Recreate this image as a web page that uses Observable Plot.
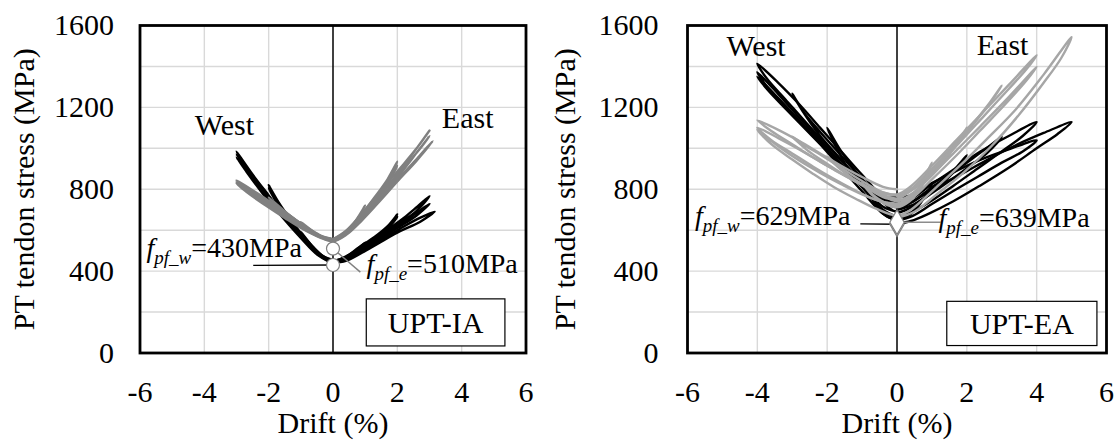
<!DOCTYPE html>
<html><head><meta charset="utf-8">
<script src="https://cdn.jsdelivr.net/npm/d3@7"></script>
<script src="https://cdn.jsdelivr.net/npm/@observablehq/plot@0.6"></script>
<style>
html,body{margin:0;padding:0;background:#fff;}
#wrap{display:flex;width:1118px;height:443px;overflow:hidden;}
#wrap > div{flex:none;}
svg{display:block;}
#wrap svg text{font-family:"Liberation Serif","Times New Roman",serif;}
</style></head>
<body><div id="wrap"><div id="left"></div><div id="right"></div></div>
<script>
// ---------- axes ----------
const xTicks = [-6, -4, -2, 0, 2, 4, 6];
const yTicks = [0, 400, 800, 1200, 1600];
const xGrid = [-4, -2, 2, 4];
const yGrid = [200, 400, 600, 800, 1000, 1200, 1400];

// ---------- UPT-IA : West tendon (black), cycles of [drift %, stress MPa] ----------
const iaWestCycles = [
  [[0,455],[-0.3,472],[-0.6,515],[-1,592],[-0.7,528],[-0.35,478],[0,452],[0.35,468],[0.7,500],[1,540],[0.7,492],[0.35,460],[0,450]],
  [[0,452],[-0.3,470],[-0.7,530],[-1.2,625],[-1.6,712],[-2,820],[-1.7,738],[-1.3,648],[-0.8,548],[-0.35,478],[0,450],[0.35,466],[0.8,515],[1.3,568],[1.7,620],[2,677],[1.7,612],[1.3,558],[0.8,502],[0.35,458],[0,448]],
  [[0,450],[-0.35,474],[-0.8,545],[-1.3,640],[-1.7,722],[-2,805],[-1.7,728],[-1.3,638],[-0.8,540],[-0.35,470],[0,448],[0.35,462],[0.8,508],[1.3,560],[1.7,612],[2,665],[1.7,605],[1.3,552],[0.8,497],[0.35,455],[0,446]],
  [[0,448],[-0.4,478],[-0.9,558],[-1.5,670],[-2,770],[-2.5,872],[-3,984],[-2.7,912],[-2.2,800],[-1.6,680],[-1,572],[-0.45,484],[0,446],[0.4,468],[1,528],[1.6,592],[2.2,660],[2.6,712],[3,766],[2.6,694],[2.1,636],[1.5,570],[0.9,505],[0.4,458],[0,444]],
  [[0,446],[-0.4,476],[-0.9,555],[-1.5,665],[-2,765],[-2.5,865],[-3,970],[-2.7,900],[-2.2,792],[-1.6,675],[-1,568],[-0.45,480],[0,444],[0.4,462],[1,518],[1.6,580],[2.2,642],[2.6,686],[3,729],[2.6,672],[2.1,620],[1.5,560],[0.9,498],[0.4,454],[0,442]],
  [[0,444],[-0.4,472],[-0.9,550],[-1.5,658],[-2,758],[-2.5,858],[-3,955],[-2.7,888],[-2.2,782],[-1.6,668],[-1,562],[-0.45,476],[0,442],[0.4,456],[1,506],[1.6,562],[2.2,618],[2.7,660],[3.16,691],[2.7,640],[2.1,596],[1.5,544],[0.9,490],[0.4,450],[0,440]]
];
// ---------- UPT-IA : East tendon (grey) ----------
const iaEastCycles = [
  [[0,555],[-0.3,565],[-0.6,592],[-1,640],[-0.7,598],[-0.35,568],[0,552],[0.3,572],[0.6,622],[1,720],[0.7,640],[0.35,582],[0,555]],
  [[0,555],[-0.4,572],[-0.9,620],[-1.4,680],[-2,760],[-1.6,700],[-1.1,640],[-0.5,580],[0,553],[0.35,580],[0.8,648],[1.3,750],[1.7,840],[2,935],[1.7,850],[1.3,762],[0.8,660],[0.35,588],[0,556]],
  [[0,556],[-0.4,575],[-0.9,622],[-1.4,678],[-2,745],[-1.6,690],[-1.1,632],[-0.5,576],[0,552],[0.35,575],[0.8,640],[1.3,738],[1.7,826],[2,915],[1.7,835],[1.3,748],[0.8,650],[0.35,582],[0,554]],
  [[0,554],[-0.4,572],[-1,632],[-1.6,700],[-2.2,765],[-2.6,805],[-3,843],[-2.6,790],[-2.1,735],[-1.5,672],[-0.9,612],[-0.4,570],[0,550],[0.4,585],[0.9,665],[1.5,775],[2,870],[2.5,978],[3,1087],[2.6,1000],[2.1,905],[1.5,795],[0.9,682],[0.4,596],[0,556]],
  [[0,552],[-0.4,570],[-1,628],[-1.6,695],[-2.2,758],[-2.6,798],[-3,835],[-2.6,782],[-2.1,728],[-1.5,665],[-0.9,606],[-0.4,566],[0,548],[0.4,580],[0.9,656],[1.5,762],[2,855],[2.5,958],[3,1060],[2.6,978],[2.1,888],[1.5,782],[0.9,672],[0.4,590],[0,552]],
  [[0,550],[-0.4,568],[-1,624],[-1.6,690],[-2.2,752],[-2.6,792],[-3,828],[-2.6,776],[-2.1,722],[-1.5,660],[-0.9,602],[-0.4,564],[0,546],[0.4,576],[0.9,648],[1.5,750],[2,838],[2.6,940],[3.1,1035],[2.7,965],[2.2,880],[1.6,775],[1,672],[0.45,590],[0,550]]
];

// ---------- UPT-EA : West tendon (black) ----------
const eaWestCycles = [
  [[0,650],[-0.3,668],[-0.6,720],[-1,850],[-0.7,752],[-0.35,688],[0,655],[0.3,668],[0.6,715],[1,820],[0.7,740],[0.35,678],[0,650]],
  [[0,690],[-0.4,715],[-0.9,800],[-1.4,900],[-2,1100],[-1.6,985],[-1.1,870],[-0.6,770],[0,688],[0.4,712],[0.9,775],[1.4,850],[2,966],[1.6,880],[1.1,800],[0.5,720],[0,682]],
  [[0,715],[-0.4,740],[-1,850],[-1.6,965],[-2.2,1080],[-2.6,1160],[-3,1267],[-2.7,1180],[-2.2,1060],[-1.6,945],[-1,830],[-0.45,745],[0,712],[0.4,735],[1,810],[1.6,880],[2.2,955],[2.6,1005],[3,1055],[2.6,980],[2.1,915],[1.5,840],[0.9,770],[0.4,720],[0,700]],
  [[0,740],[-0.4,765],[-1,870],[-1.6,985],[-2.2,1100],[-2.8,1215],[-3.4,1320],[-4,1413],[-3.7,1335],[-3.2,1240],[-2.6,1125],[-2,1015],[-1.4,905],[-0.8,810],[-0.35,750],[0,735],[0.4,752],[1,825],[1.7,905],[2.4,985],[3.2,1060],[4,1128],[3.6,1060],[3,985],[2.3,900],[1.6,815],[1,745],[0.45,690],[0,665]],
  [[0,665],[-0.4,700],[-1,810],[-1.6,925],[-2.2,1040],[-2.8,1150],[-3.4,1265],[-4,1372],[-3.7,1295],[-3.2,1205],[-2.6,1095],[-2,990],[-1.4,885],[-0.8,800],[-0.35,760],[0,762],[0.4,770],[1,830],[1.7,890],[2.4,945],[3.2,995],[4,1039],[3.6,985],[3,930],[2.3,860],[1.6,790],[1,728],[0.45,670],[0,645]],
  [[0,645],[-0.4,680],[-1,790],[-1.6,905],[-2.2,1020],[-2.8,1135],[-3.4,1245],[-4,1350],[-3.7,1285],[-3.2,1195],[-2.6,1090],[-2,985],[-1.4,880],[-0.8,790],[-0.35,740],[0,718],[0.4,735],[1,800],[1.8,870],[2.6,945],[3.4,1015],[4.2,1075],[5,1128],[4.6,1070],[4,1000],[3.2,905],[2.4,820],[1.6,740],[0.9,680],[0.4,645],[0,632]]
];
// ---------- UPT-EA : East tendon (grey) ----------
const eaEastCycles = [
  [[0,720],[-0.35,735],[-0.7,775],[-1,830],[-0.7,770],[-0.35,728],[0,712],[0.35,740],[0.7,810],[1,930],[0.7,830],[0.35,752],[0,720]],
  [[0,745],[-0.4,762],[-0.9,810],[-1.4,870],[-2,960],[-1.6,895],[-1.1,835],[-0.5,778],[0,742],[0.4,775],[0.9,850],[1.4,945],[2,1100],[1.7,1020],[1.2,920],[0.6,818],[0,748]],
  [[0,770],[-0.4,785],[-1,840],[-1.6,905],[-2.2,970],[-2.6,1010],[-3,1058],[-2.6,995],[-2.1,935],[-1.5,868],[-0.9,810],[-0.4,772],[0,755],[0.4,800],[1,900],[1.6,1010],[2.2,1125],[2.6,1210],[3,1307],[2.7,1230],[2.2,1120],[1.6,995],[1,885],[0.45,800],[0,768]],
  [[0,800],[-0.4,812],[-1,860],[-1.6,915],[-2.2,975],[-2.8,1035],[-3.4,1090],[-4,1137],[-3.6,1085],[-3,1020],[-2.4,955],[-1.8,895],[-1.2,840],[-0.6,795],[0,775],[0.4,815],[1,915],[1.7,1040],[2.4,1165],[3.2,1310],[4,1454],[3.7,1385],[3.2,1290],[2.5,1160],[1.8,1030],[1.1,905],[0.5,810],[0,770]],
  [[0,770],[-0.4,780],[-1,825],[-1.6,878],[-2.2,935],[-2.8,995],[-3.4,1050],[-4,1101],[-3.6,1040],[-3,975],[-2.4,910],[-1.8,850],[-1.2,795],[-0.6,748],[0,728],[0.4,770],[1,870],[1.7,990],[2.4,1110],[3.2,1250],[4,1397],[3.7,1330],[3.1,1215],[2.4,1090],[1.7,965],[1,848],[0.45,760],[0,730]],
  [[0,730],[-0.4,738],[-1,775],[-1.6,825],[-2.2,880],[-2.8,940],[-3.4,1010],[-4,1090],[-3.6,1020],[-3,945],[-2.4,875],[-1.8,810],[-1.2,755],[-0.6,705],[0,672],[0.4,700],[1,790],[1.8,915],[2.6,1050],[3.4,1190],[4.2,1360],[5,1543],[4.7,1440],[4.2,1320],[3.5,1165],[2.7,1010],[1.9,880],[1.1,770],[0.5,690],[0,660]]
];

// ---------- markers and annotations ----------
const iaMarkers = [{drift: 0, stress: 430}, {drift: 0, stress: 510}];
const eaMarkers = [{drift: 0, stress: 629}, {drift: 0, stress: 639}];
const iaLeaders = [
  {x1: -2.48, y1: 428, x2: 0, y2: 430, kind: "w"},
  {x1: 0, y1: 510, x2: 0.85, y2: 395, kind: "e"}
];
const eaLeaders = [
  {x1: -1.05, y1: 631, x2: 0, y2: 629, kind: "w"},
  {x1: 0, y1: 639, x2: 1.25, y2: 639, kind: "e"}
];
const iaNotes = [
  {drift: -5.78, stress: 468, sub: "pf_w", value: "=430MPa"},
  {drift: 1.06, stress: 387, sub: "pf_e", value: "=510MPa"}
];
const eaNotes = [
  {drift: -5.77, stress: 624, sub: "pf_w", value: "=629MPa"},
  {drift: 1.2, stress: 615, sub: "pf_e", value: "=639MPa"}
];
const iaLabels = [{text: "West", drift: -4.28, stress: 1062}, {text: "East", drift: 3.4, stress: 1095}];
const eaLabels = [{text: "West", drift: -4.87, stress: 1449}, {text: "East", drift: 2.3, stress: 1454}];
const iaBox = [{x1: 1.05, x2: 5.36, y1: 32, y2: 262, label: "UPT-IA"}];
const eaBox = [{x1: 1.44, x2: 5.74, y1: 34, y2: 250, label: "UPT-EA"}];

const FONT = "'Liberation Serif', 'Times New Roman', serif";
const FS = 30;
const fmt = d => d < 0 ? "-" + (-d) : String(d);

function rows(cycles) {
  const out = [];
  cycles.forEach((c, i) => c.forEach(([d, s]) => out.push({d, s, c: i})));
  return out;
}

function panel(o) {
  const chart = Plot.plot({
    width: o.width, height: 443,
    marginLeft: o.marginLeft, marginRight: o.marginRight, marginTop: 25, marginBottom: 90.5,
    style: {fontFamily: FONT, fontSize: FS + "px", background: "transparent", color: "black", overflow: "visible"},
    x: {domain: [-6, 6]},
    y: {domain: [0, 1600]},
    marks: [
      Plot.gridX(xGrid, {stroke: "#d9d9d9", strokeOpacity: 1, strokeWidth: 1.4}),
      Plot.gridY(yGrid, {stroke: "#d9d9d9", strokeOpacity: 1, strokeWidth: 1.4}),
      Plot.ruleX([0], {stroke: "black", strokeWidth: 1.5}),
      Plot.line(rows(o.west), {x: "d", y: "s", z: "c", stroke: "black", strokeWidth: 2.4, curve: "catmull-rom"}),
      Plot.line(rows(o.east), {x: "d", y: "s", z: "c", stroke: o.grey, strokeWidth: 2.4, curve: "catmull-rom"}),
      Plot.link(o.leaders, {x1: "x1", y1: "y1", x2: "x2", y2: "y2",
        stroke: d => d.kind === "w" ? "black" : o.leaderGrey, strokeWidth: 1.4}),
      Plot.dot(o.markers, {x: "drift", y: "stress", symbol: o.symbol, r: o.r,
        fill: "white", stroke: "#7f7f7f", strokeWidth: 1.2}),
      Plot.rect(o.box, {x1: "x1", x2: "x2", y1: "y1", y2: "y2", fill: "white", stroke: "black", strokeWidth: 1.2}),
      Plot.frame({stroke: "black", strokeWidth: 2.8}),
      Plot.axisX({ticks: xTicks, tickFormat: fmt, tickSize: 0, tickPadding: 28, fontSize: FS, fontFamily: FONT,
        label: "Drift (%)", labelAnchor: "center", labelArrow: "none", labelOffset: 80}),
      Plot.axisY({ticks: yTicks, tickFormat: fmt, tickSize: 0, tickPadding: o.yPad, fontSize: FS, fontFamily: FONT,
        label: "PT tendon stress (MPa)", labelAnchor: "center", labelArrow: "none", labelOffset: o.labelOffset})
    ]
  });
  const x = chart.scale("x"), y = chart.scale("y");
  const svg = d3.select(chart);
  const g = svg.append("g").attr("font-family", FONT).attr("fill", "black").attr("text-anchor", "start");
  o.labels.forEach(l => g.append("text")
    .attr("x", x.apply(l.drift)).attr("y", y.apply(l.stress))
    .attr("font-size", FS).text(l.text));
  o.box.forEach(b => g.append("text")
    .attr("x", (x.apply(b.x1) + x.apply(b.x2)) / 2)
    .attr("y", (y.apply(b.y1) + y.apply(b.y2)) / 2)
    .attr("dy", "0.34em").attr("text-anchor", "middle")
    .attr("font-size", FS).text(b.label));
  o.notes.forEach(n => {
    const t = g.append("text").attr("x", x.apply(n.drift)).attr("y", y.apply(n.stress)).attr("font-size", 28);
    t.append("tspan").attr("font-style", "italic").text("f");
    t.append("tspan").attr("font-style", "italic").attr("font-size", 19).attr("dy", 7).text(n.sub);
    t.append("tspan").attr("dy", -7).text(n.value);
  });
  return chart;
}

document.getElementById("left").appendChild(panel({
  width: 545, marginLeft: 139.5, marginRight: 19.5, yPad: 26, labelOffset: 127,
  west: iaWestCycles, east: iaEastCycles, grey: "#808080", leaderGrey: "#808080",
  markers: iaMarkers, symbol: "circle", r: 6.5,
  leaders: iaLeaders, notes: iaNotes, labels: iaLabels, box: iaBox
}));
document.getElementById("right").appendChild(panel({
  width: 573, marginLeft: 142, marginRight: 12, yPad: 29, labelOffset: 134,
  west: eaWestCycles, east: eaEastCycles, grey: "#a6a6a6", leaderGrey: "#8c8c8c",
  markers: eaMarkers, symbol: "diamond", r: 7.5,
  leaders: eaLeaders, notes: eaNotes, labels: eaLabels, box: eaBox
}));
</script>
</body></html>
